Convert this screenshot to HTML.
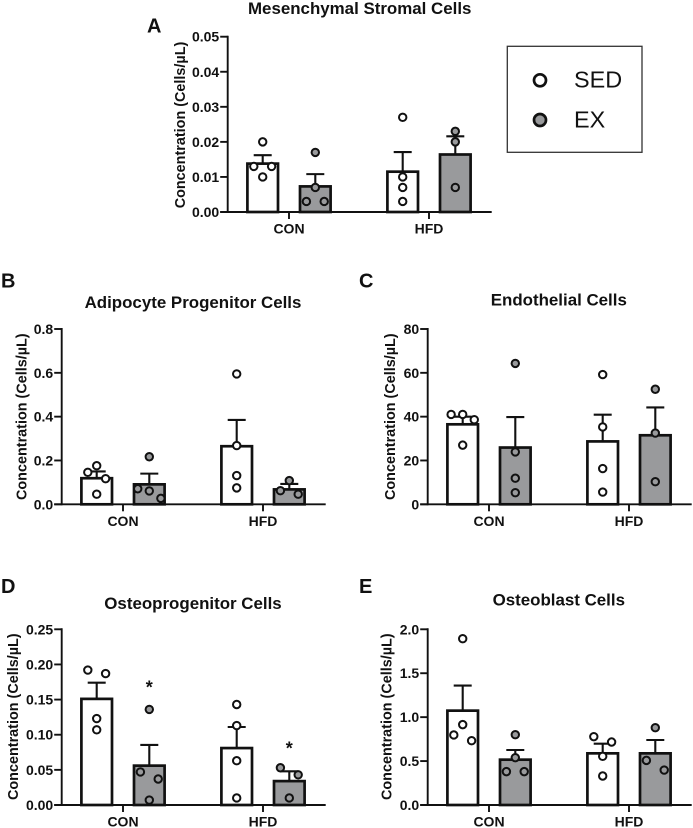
<!DOCTYPE html>
<html lang="en">
<head>
<meta charset="utf-8">
<title>Cell concentrations by diet and exercise</title>
<style>
  html, body { margin: 0; padding: 0; background: #fff; }
  #figure { display: block; width: 693px; height: 828px; }
  text { font-family: "Liberation Sans", sans-serif; fill: #111; }
  .title { font-size: 16.9px; font-weight: bold; text-anchor: middle; }
  .letter { font-size: 20px; font-weight: bold; }
  .ytitle { font-size: 14.4px; font-weight: bold; text-anchor: middle; }
  .tick { font-size: 14px; font-weight: bold; }
  .legend-text { font-size: 23.4px; fill: #111; }
</style>
</head>
<body>
<svg id="figure" xmlns="http://www.w3.org/2000/svg" width="693" height="828" viewBox="0 0 693 828">
  <g id="panel-a">
    <text class="letter" x="147" y="32.5">A</text>
    <text class="title" x="359.7" y="14">Mesenchymal Stromal Cells</text>
    <text class="ytitle" transform="translate(185,125) rotate(-90)">Concentration (Cells/µL)</text>
  </g>
  <g id="panel-b">
    <text class="letter" x="1" y="287.5">B</text>
    <text class="title" x="193" y="308">Adipocyte Progenitor Cells</text>
    <text class="ytitle" transform="translate(26.7,416.7) rotate(-90)">Concentration (Cells/µL)</text>
  </g>
  <g id="panel-c">
    <text class="letter" x="359" y="287.5">C</text>
    <text class="title" x="558.8" y="305.7">Endothelial Cells</text>
    <text class="ytitle" transform="translate(395,416.7) rotate(-90)">Concentration (Cells/µL)</text>
  </g>
  <g id="panel-d">
    <text class="letter" x="1" y="593">D</text>
    <text class="title" x="193" y="609">Osteoprogenitor Cells</text>
    <text class="ytitle" transform="translate(18,716.7) rotate(-90)">Concentration (Cells/µL)</text>
  </g>
  <g id="panel-e">
    <text class="letter" x="359" y="593">E</text>
    <text class="title" x="558.8" y="605.7">Osteoblast Cells</text>
    <text class="ytitle" transform="translate(391.7,716.7) rotate(-90)">Concentration (Cells/µL)</text>
  </g>
  <g id="legend">
    <rect x="507.3" y="46.3" width="134.7" height="106" fill="#fff" stroke="#333" stroke-width="1.3"/>
    <g>
      <circle cx="540" cy="80.3" r="6" fill="#fff" stroke="#111" stroke-width="2.7"/>
      <text class="legend-text" x="574" y="87.3">SED</text>
    </g>
    <g>
      <circle cx="540" cy="120" r="6" fill="#999a9c" stroke="#111" stroke-width="2.7"/>
      <text class="legend-text" x="574" y="127.7">EX</text>
    </g>
  </g>
</svg>
<script>
// Shared categories: each chart has four bars, ordered CON-SED, CON-EX, HFD-SED, HFD-EX.
const groupLabels = ['CON', 'HFD'];
const seriesNames = ['sed', 'ex'];

// A: Mesenchymal Stromal Cells
const mscTicks = ['0.00', '0.01', '0.02', '0.03', '0.04', '0.05'];
const mscMeans = [0.0138, 0.0073, 0.0115, 0.0164];
const mscErrors = [0.0024, 0.0035, 0.0056, 0.0052];
const mscPoints = [[0.020, 0.013, 0.013, 0.010], [0.017, 0.007, 0.003, 0.003], [0.027, 0.010, 0.007, 0.003], [0.023, 0.020, 0.007]];
const mscSlots = [[0, -1, 1, 0], [0, 0, -1, 1], [0, 0, 0, 0], [0, 0, 0]];

// B: Adipocyte Progenitor Cells
const apcTicks = ['0.0', '0.2', '0.4', '0.6', '0.8'];
const apcMeans = [0.119, 0.091, 0.265, 0.068];
const apcErrors = [0.031, 0.049, 0.120, 0.025];
const apcPoints = [[0.176, 0.146, 0.117, 0.046], [0.217, 0.071, 0.061, 0.027], [0.595, 0.268, 0.131, 0.075], [0.108, 0.062, 0.046]];
const apcSlots = [[0, -1, 1, 0], [0, -1.3, 0, 1.3], [0, 0, 0, 0], [0, -1, 1]];

// C: Endothelial Cells
const endoTicks = ['0', '20', '40', '60', '80'];
const endoMeans = [36.5, 25.9, 28.7, 31.5];
const endoErrors = [3.5, 13.9, 12.2, 12.7];
const endoPoints = [[41, 41, 38.6, 27], [64.3, 23.9, 11.9, 5.3], [59.2, 35.3, 16.3, 5.6], [52.5, 32.5, 10.3]];
const endoSlots = [[-1.3, 0, 1.3, 0], [0, 0, 0, 0], [0, 0, 0, 0], [0, 0, 0]];

// D: Osteoprogenitor Cells
const opcTicks = ['0.00', '0.05', '0.10', '0.15', '0.20', '0.25'];
const opcMeans = [0.151, 0.056, 0.081, 0.034];
const opcErrors = [0.023, 0.0295, 0.030, 0.014];
const opcPoints = [[0.192, 0.187, 0.123, 0.107], [0.136, 0.047, 0.037, 0.007], [0.143, 0.113, 0.063, 0.010], [0.053, 0.043, 0.010]];
const opcSlots = [[-1, 1, 0, 0], [0, -1, 1, 0], [0, 0, 0, 0], [-1, 1, 0]];
const opcStarValues = [null, 0.159, null, 0.072];

// E: Osteoblast Cells
const oblTicks = ['0.0', '0.5', '1.0', '1.5', '2.0'];
const oblMeans = [1.074, 0.516, 0.588, 0.588];
const oblErrors = [0.286, 0.110, 0.110, 0.152];
const oblPoints = [[1.893, 0.915, 0.797, 0.732], [0.80, 0.539, 0.38, 0.38], [0.778, 0.717, 0.554, 0.33], [0.88, 0.508, 0.398]];
const oblSlots = [[0, 0, -1, 1], [0, 0, -1, 1], [-1, 1, 0, 0], [0, -1, 1]];

const SVG_NS = 'http://www.w3.org/2000/svg';
const INK = '#111';
const GREY = '#999a9c';

function make(parent, tag, attrs, text) {
  const el = document.createElementNS(SVG_NS, tag);
  for (const key in attrs) el.setAttribute(key, attrs[key]);
  if (text !== undefined) el.textContent = text;
  parent.appendChild(el);
  return el;
}

function drawChart(panelId, frame, ticks, means, errors, points, slots, starValues) {
  const parent = document.getElementById(panelId);
  const tickValues = ticks.map(Number);
  const yMax = tickValues[tickValues.length - 1];
  const yScale = function (v) { return frame.y0 - (v / yMax) * (frame.y0 - frame.yTop); };
  const groupX = function (g) { return frame.axisX + 61.3 + g * 140; };
  const barX = function (i) { return groupX(Math.floor(i / 2)) + (i % 2 === 0 ? -26.3 : 26.3); };
  const slotX = function (i, s) { return barX(i) + s * 8.9; };

  for (let i = 0; i < means.length; i++) {
    const series = seriesNames[i % 2];
    const group = groupLabels[Math.floor(i / 2)].toLowerCase();
    const x = barX(i);

    const bar = make(parent, 'rect', { x: x - 15.3, y: yScale(means[i]), width: 30.6, height: frame.y0 - yScale(means[i]), fill: i % 2 === 0 ? '#fff' : GREY, stroke: INK, 'stroke-width': 2.7 });
    
    

    const stem = make(parent, 'line', { x1: x, x2: x, y1: yScale(means[i]), y2: yScale(means[i] + errors[i]), stroke: INK, 'stroke-width': 2.1 });
    
    

    const cap = make(parent, 'line', { x1: x - 9, x2: x + 9, y1: yScale(means[i] + errors[i]), y2: yScale(means[i] + errors[i]), stroke: INK, 'stroke-width': 2.1 });
    
    
  }

  const yAxis = make(parent, 'line', { x1: frame.axisX, x2: frame.axisX, y1: frame.yTop - 1, y2: frame.y0 + 1, stroke: INK, 'stroke-width': 1.9 });
  
  

  const xAxis = make(parent, 'line', { x1: frame.axisX - 7.5, x2: frame.axisX + 264, y1: frame.y0, y2: frame.y0, stroke: INK, 'stroke-width': 1.9 });
  
  

  ticks.forEach(function (label, t) {
    const y = yScale(tickValues[t]);
    const mark = make(parent, 'line', { x1: frame.axisX - 7.5, x2: frame.axisX, y1: y, y2: y, stroke: INK, 'stroke-width': 1.9 });
    
    
    const tickText = make(parent, 'text', { class: 'tick', x: frame.axisX - 8.5, y: y + 5, 'text-anchor': 'end' }, label);
    
    
  });

  groupLabels.forEach(function (label, g) {
    const x = groupX(g);
    const mark = make(parent, 'line', { x1: x, x2: x, y1: frame.y0, y2: frame.y0 + 7, stroke: INK, 'stroke-width': 1.9 });
    
    
    const groupText = make(parent, 'text', { class: 'tick', x: x, y: frame.y0 + 21.6, 'text-anchor': 'middle' }, label);
    
    
  });

  points.forEach(function (values, i) {
    values.forEach(function (v, p) {
      const dot = make(parent, 'circle', { cx: slotX(i, slots[i][p]), cy: yScale(v), r: 3.7, fill: i % 2 === 0 ? '#fff' : GREY, stroke: INK, 'stroke-width': 2 });
      
      
    });
  });

  if (starValues) {
    starValues.forEach(function (v, i) {
      if (v === null) return;
      const star = make(parent, 'text', { x: barX(i), y: yScale(v), 'text-anchor': 'middle', 'font-size': 18, 'font-weight': 'bold' }, '*');
      
      
    });
  }
}

drawChart('panel-a', { axisX: 227.7, yTop: 36.7, y0: 212 }, mscTicks, mscMeans, mscErrors, mscPoints, mscSlots);
drawChart('panel-b', { axisX: 61.7, yTop: 329, y0: 504.3 }, apcTicks, apcMeans, apcErrors, apcPoints, apcSlots);
drawChart('panel-c', { axisX: 427.7, yTop: 329, y0: 504.3 }, endoTicks, endoMeans, endoErrors, endoPoints, endoSlots);
drawChart('panel-d', { axisX: 61.7, yTop: 629.3, y0: 805 }, opcTicks, opcMeans, opcErrors, opcPoints, opcSlots, opcStarValues);
drawChart('panel-e', { axisX: 427.7, yTop: 629.3, y0: 805 }, oblTicks, oblMeans, oblErrors, oblPoints, oblSlots);
</script>
</body>
</html>
